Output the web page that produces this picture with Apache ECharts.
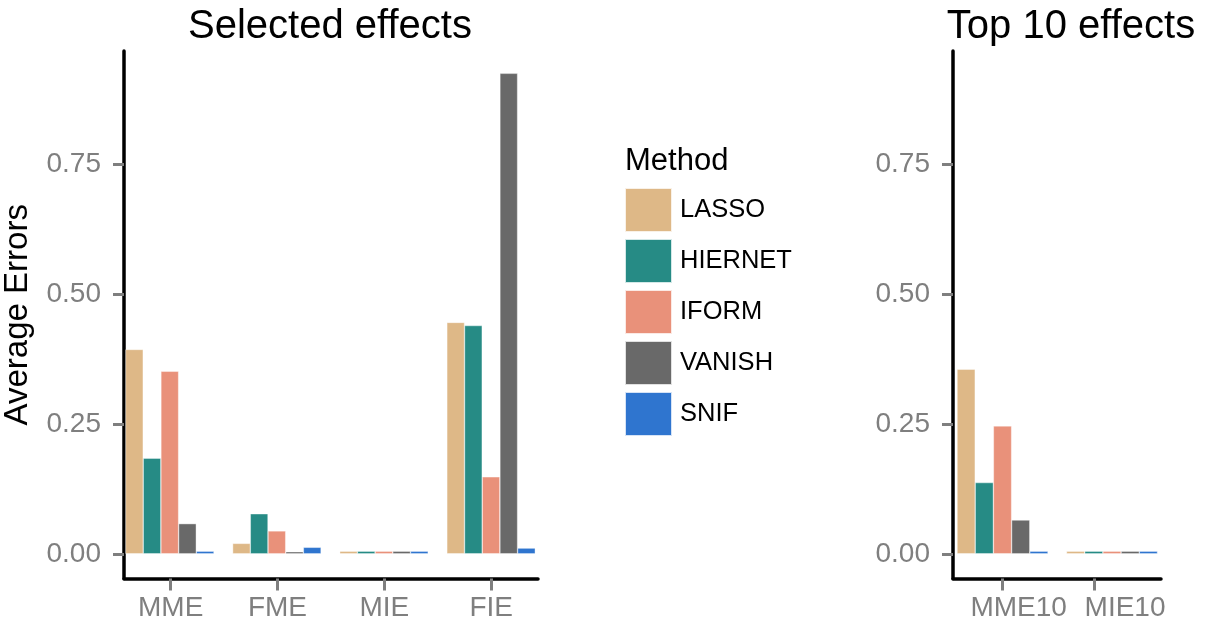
<!DOCTYPE html>
<html>
<head>
<meta charset="utf-8">
<script src="https://cdn.jsdelivr.net/npm/echarts@6/dist/echarts.min.js"></script>
<style>html,body{margin:0;padding:0;background:#fff;}#chart{width:1209px;height:629px;}</style>
</head>
<body>
<div id="chart"></div>
<script>
const methods = ['LASSO', 'HIERNET', 'IFORM', 'VANISH', 'SNIF'];
const colors = ['#DEB887', '#268B85', '#E9917A', '#696969', '#2F75CF'];

const leftCategories = ['MME', 'FME', 'MIE', 'FIE'];
const leftLASSO   = [0.393, 0.020, 0.005, 0.445];
const leftHIERNET = [0.184, 0.077, 0.005, 0.439];
const leftIFORM   = [0.351, 0.044, 0.005, 0.148];
const leftVANISH  = [0.058, 0.004, 0.005, 0.924];
const leftSNIF    = [0.005, 0.0125, 0.005, 0.011];

const rightCategories = ['MME10', 'MIE10'];
const rightLASSO   = [0.355, 0.005];
const rightHIERNET = [0.137, 0.005];
const rightIFORM   = [0.246, 0.005];
const rightVANISH  = [0.065, 0.005];
const rightSNIF    = [0.005, 0.005];

const yTicks = [0, 0.25, 0.5, 0.75];

const leftValues = [leftLASSO, leftHIERNET, leftIFORM, leftVANISH, leftSNIF];
const rightValues = [rightLASSO, rightHIERNET, rightIFORM, rightVANISH, rightSNIF];

const FONT = 'Liberation Sans, Arial, sans-serif';
const Y_MIN = -0.0475, Y_MAX = 0.967;
const TOP = 51, HEIGHT = 527.5;

function visibleY(gridIndex, withName) {
  return {
    type: 'value', gridIndex: gridIndex, min: Y_MIN, max: Y_MAX,
    name: withName ? 'Average Errors' : '',
    nameLocation: 'middle', nameGap: 90,
    nameTextStyle: { fontSize: 33, color: '#000', fontFamily: FONT },
    axisLine: { show: true, onZero: false, lineStyle: { color: '#000', width: 3.5 } },
    axisTick: { show: true, length: 11, customValues: yTicks, lineStyle: { color: '#7F7F7F', width: 3 } },
    axisLabel: { customValues: yTicks, margin: 23, fontSize: 28, color: '#7F7F7F', fontFamily: FONT,
      formatter: v => v.toFixed(2) },
    splitLine: { show: false }
  };
}
function hiddenY(gridIndex) {
  return { type: 'value', gridIndex: gridIndex, min: Y_MIN, max: Y_MAX, show: false, splitLine: { show: false } };
}
function visibleX(gridIndex, cats, min, max, tickPos, labelPos) {
  return {
    type: 'value', gridIndex: gridIndex, min: min, max: max,
    axisLine: { show: true, onZero: false, lineStyle: { color: '#000', width: 3.5 } },
    axisTick: { show: true, length: 12, customValues: tickPos, lineStyle: { color: '#7F7F7F', width: 3 } },
    axisLabel: { customValues: labelPos, margin: 16, fontSize: 28, color: '#7F7F7F', fontFamily: FONT,
      formatter: v => { const i = labelPos.findIndex(t => Math.abs(t - v) < 1e-6); return i >= 0 ? cats[i] : ''; } },
    splitLine: { show: false }
  };
}
function hiddenX(gridIndex, cats) {
  return { type: 'category', gridIndex: gridIndex, data: cats, show: false, boundaryGap: true };
}

const series = [];
methods.forEach((m, k) => {
  series.push({
    name: m, type: 'bar', xAxisIndex: 0, yAxisIndex: 0,
    data: leftValues[k],
    barGap: '0%', barCategoryGap: '17.4%',
    itemStyle: { color: colors[k], borderColor: 'rgba(255,255,255,0.8)', borderWidth: 0.5 },
    emphasis: { disabled: true }
  });
});
methods.forEach((m, k) => {
  series.push({
    name: m, type: 'bar', xAxisIndex: 2, yAxisIndex: 2,
    data: rightValues[k],
    barGap: '0%', barCategoryGap: '16.9%',
    itemStyle: { color: colors[k], borderColor: 'rgba(255,255,255,0.8)', borderWidth: 0.5 },
    emphasis: { disabled: true }
  });
});

const chart = echarts.init(document.getElementById('chart'));
chart.setOption({
  animation: false,
  backgroundColor: '#fff',
  textStyle: { fontFamily: FONT },
  grid: [
    { left: 116.2, top: TOP, width: 428.4, height: HEIGHT },
    { left: 123, top: TOP, width: 415, height: HEIGHT },
    { left: 947.75, top: TOP, width: 219, height: HEIGHT },
    { left: 953, top: TOP, width: 208, height: HEIGHT }
  ],
  xAxis: [
    hiddenX(0, leftCategories),
    visibleX(1, leftCategories, -0.4365, 3.438, [0, 1, 2, 3], [0, 1, 2, 3]),
    hiddenX(2, rightCategories),
    visibleX(3, rightCategories, -0.452, 1.4475, [0, 0.836], [0.148, 1.119])
  ],
  yAxis: [hiddenY(0), visibleY(1, true), hiddenY(2), visibleY(3, false)],
  legend: {
    data: methods, orient: 'vertical', left: 624, top: 187, padding: 0,
    itemWidth: 47, itemHeight: 44, itemGap: 5, icon: 'rect',
    selectedMode: false,
    textStyle: { fontSize: 25.5, color: '#000', fontFamily: FONT, padding: [0, 0, 0, 3] }
  },
  graphic: [
    { type: 'text', x: 330, y: 27, style: { text: 'Selected effects', fontSize: 40, fontFamily: FONT, fill: '#000', textAlign: 'center', textVerticalAlign: 'middle' } },
    { type: 'text', x: 1071, y: 27, style: { text: 'Top 10 effects', fontSize: 40, fontFamily: FONT, fill: '#000', textAlign: 'center', textVerticalAlign: 'middle' } },
    { type: 'text', x: 625, y: 161, style: { text: 'Method', fontSize: 31, fontFamily: FONT, fill: '#000', textAlign: 'left', textVerticalAlign: 'middle' } }
  ],
  series: series
});
</script>
</body>
</html>
